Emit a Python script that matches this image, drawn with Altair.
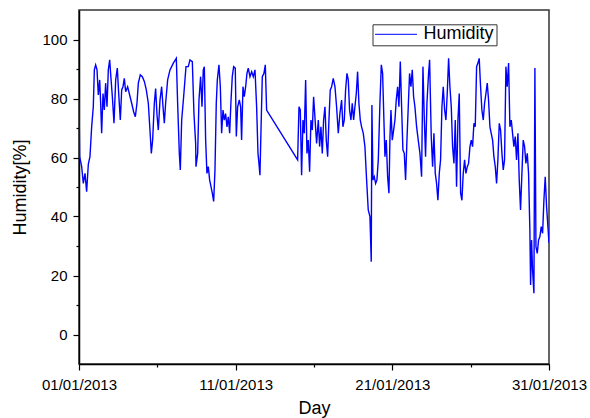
import altair as alt
import pandas as pd

# Hours since 01/01/2013 00:00 and relative humidity [%]
hours_a = [0, 1.0, 4.1, 6.6, 9.2, 11.7, 14.3, 16.8, 19.4, 21.9, 23.5, 25.5, 27.6, 29.6, 31.7, 33.2, 34.7,
           36.8, 38.8, 40.8, 42.9, 44.9, 47.0, 49.0, 51.1, 53.6, 56.2, 58.7, 60.8, 63.3, 65.4, 67.4, 69.4,
           71.5, 74.5, 77.6, 80.7, 83.7, 86.3, 88.8, 90.9, 93.9, 97.0, 100.1, 103.1, 106.2, 108.7, 110.8,
           112.8, 115.4, 117.4, 119.5, 121.5, 124.1, 126.6, 128.7, 130.7, 132.7, 135.8, 139.4, 144.5, 149.1,
           151.1, 153.7, 155.2, 157.3, 160.3, 163.9, 167.4, 170.0, 173.6, 176.1, 178.7]
humidity_a = [80.1, 60.3, 56.9, 51.2, 54.6, 48.4, 57.8, 60.3, 70.4, 77.2, 89.7, 91.4, 89.7, 81.2, 86.3, 78.4,
              68.2, 81.7, 76.1, 85.2, 77.2, 89.7, 93.1, 86.8, 80.6, 71.6, 86.3, 90.3, 81.7, 72.7, 82.9, 84.0,
              86.8, 82.3, 84.0, 81.2, 78.4, 75.5, 73.8, 78.4, 85.2, 88.0, 87.4, 85.8, 82.9, 78.4, 69.3, 61.4,
              65.9, 78.4, 83.4, 74.4, 69.3, 79.5, 84.0, 77.2, 71.6, 78.4, 86.3, 89.7, 92.0, 93.6, 78.4, 61.4,
              55.8, 72.7, 80.6, 90.8, 90.8, 93.1, 92.5, 74.9, 64.8]

hours_b = [179.2, 181.8, 183.8, 186.3, 188.4, 190.4, 192.0, 194.0, 196.0, 198.1, 200.1, 202.2, 204.2, 206.3,
           208.3, 210.3, 211.9, 214.4, 216.5, 218.5, 220.6, 222.6, 224.6, 226.7, 228.7, 230.8, 232.8, 234.8,
           236.9, 239.4, 241.0, 243.0, 245.6, 247.6, 249.1, 251.2, 253.2, 255.3, 257.3, 259.3, 261.9, 264.5,
           267.0, 269.6, 272.1, 274.2, 275.7, 277.2, 278.8, 280.8, 283.3, 285.4, 287.4, 334.9, 337.0, 339.0,
           341.0, 343.1, 345.1, 347.2, 349.2, 351.2, 353.3, 355.3, 357.4, 359.4]
humidity_b = [56.9, 61.4, 79.5, 87.4, 77.2, 89.7, 90.8, 65.9, 54.6, 56.9, 52.4, 50.1, 47.9, 45.1, 55.8, 78.4,
              86.3, 91.4, 84.0, 68.2, 76.1, 72.7, 74.9, 70.4, 73.8, 68.2, 79.0, 87.4, 90.8, 90.3, 67.1, 77.2,
              79.5, 77.2, 65.9, 84.0, 80.6, 84.0, 88.5, 90.3, 87.4, 89.1, 87.4, 89.7, 77.2, 61.4, 58.0, 54.0,
              69.3, 87.4, 88.5, 91.4, 76.1, 59.2, 77.2, 76.1, 54.0, 72.7, 68.2, 86.3, 61.4, 65.9, 55.2, 72.7,
              69.3, 80.6]

hours_c = [364.0, 366.6, 368.6, 370.6, 372.7, 374.7, 376.8, 378.8, 380.9, 382.9, 384.9, 387.0, 389.5, 392.1,
           394.6, 397.2, 399.7, 402.3, 404.3, 406.4, 408.4, 410.5, 412.5, 414.5, 416.6, 418.6, 420.7, 422.7,
           424.8, 426.8, 428.8, 430.9, 432.9, 435.5, 438.0, 440.6, 443.1, 445.7, 447.7, 448.7, 450.3, 452.3,
           454.4, 456.4, 458.5, 461.0, 463.1, 465.1, 467.1, 468.7, 470.7, 472.8, 474.8, 476.4, 477.9, 479.9,
           482.0, 484.0, 486.0, 488.1, 490.1, 492.2, 494.2, 496.2, 498.3, 500.3, 502.4, 504.4, 506.4, 508.5,
           510.5, 512.6, 514.6, 517.2, 519.7, 522.3, 524.8, 526.9, 528.9, 530.9, 533.0, 535.5, 537.1]
humidity_c = [64.8, 72.7, 63.7, 70.4, 61.4, 72.7, 77.2, 65.9, 60.3, 72.7, 82.9, 84.0, 86.8, 84.0, 77.2, 68.2,
              74.9, 79.5, 70.4, 72.7, 82.9, 88.5, 86.3, 76.1, 72.7, 78.4, 72.7, 77.2, 81.7, 89.1, 78.4, 72.7,
              70.4, 68.2, 63.7, 52.4, 42.2, 40.0, 24.7, 77.8, 52.4, 53.5, 51.2, 52.4, 59.2, 78.4, 91.4, 88.5,
              72.7, 60.3, 65.9, 53.5, 47.9, 67.1, 76.1, 65.9, 69.3, 72.7, 79.5, 84.0, 77.2, 92.5, 77.2, 62.6,
              61.4, 52.4, 65.9, 77.2, 88.5, 84.0, 89.7, 80.6, 77.2, 70.4, 65.9, 61.4, 53.5, 90.8, 73.8, 60.3,
              78.4, 88.5, 93.1]

hours_d = [539.6, 541.7, 543.7, 545.8, 547.8, 549.8, 551.9, 553.9, 556.0, 558.0, 560.1, 562.1, 564.1, 566.2,
           568.2, 570.3, 572.3, 574.4, 576.4, 578.4, 580.5, 582.5, 584.6, 586.6, 588.6, 590.7, 592.7, 594.8,
           596.8, 598.9, 600.9, 602.9, 605.0, 607.0, 609.1, 611.1, 613.1, 615.2, 617.2, 619.3, 621.3, 623.4,
           625.4, 627.4, 629.5, 631.5, 633.6, 635.6, 637.7, 639.7, 641.7, 643.8, 645.8, 647.9, 649.9, 651.9,
           654.0, 656.0, 658.1, 660.1, 662.2, 664.2, 666.2, 668.3, 670.3, 672.4, 674.4, 676.4, 678.5, 680.5,
           682.6, 684.6, 686.7, 688.7, 690.7, 691.8, 693.3, 694.8, 696.9, 698.4, 700.0, 702.0, 704.0, 706.1,
           708.1, 710.2, 712.2, 714.2, 716.3, 720.0]
humidity_d = [67.1, 56.9, 68.2, 54.6, 51.2, 45.5, 54.6, 59.2, 77.2, 84.0, 76.1, 72.7, 81.7, 93.6, 84.0, 77.2,
              63.7, 58.0, 72.7, 50.1, 72.7, 81.7, 47.9, 45.5, 54.6, 59.2, 54.6, 56.9, 58.0, 63.7, 65.9, 63.7,
              71.6, 70.4, 90.8, 92.0, 93.6, 84.0, 76.1, 72.7, 78.4, 81.7, 85.2, 79.5, 70.4, 68.2, 65.9, 60.3,
              56.9, 51.2, 59.2, 71.6, 69.3, 61.4, 55.8, 59.2, 90.8, 84.0, 92.0, 70.4, 72.7, 68.2, 63.7, 67.1,
              59.2, 68.2, 52.4, 42.2, 54.6, 65.9, 63.7, 58.0, 61.4, 54.6, 35.4, 16.8, 32.0, 21.9, 14.0, 90.3,
              29.8, 27.5, 32.0, 33.2, 36.6, 34.3, 45.5, 53.5, 43.3, 31.0]

series_name = "Humidity"
x_tick_days = [1, 6, 11, 16, 21, 26, 31]
y_tick_values = [0, 10, 20, 30, 40, 50, 60, 70, 80, 90, 100]

hours = hours_a + hours_b + hours_c + hours_d
humidity = humidity_a + humidity_b + humidity_c + humidity_d

df = pd.DataFrame({
    "time": pd.Timestamp("2013-01-01") + pd.to_timedelta(hours, unit="h"),
    "humidity": humidity,
    "series": series_name,
})

FONT = "Liberation Sans"

x_axis = alt.Axis(
    values=[alt.DateTime(year=2013, month=1, date=d) for d in x_tick_days],
    labelExpr="date(datum.value) % 10 == 1 ? timeFormat(datum.value, '%d/%m/%Y') : ''",
    tickSize={"condition": {"test": "date(datum.value) % 10 == 1", "value": 6}, "value": 3},
    labelPadding=7,
    labelAngle=0,
    labelFlush=False,
    labelOverlap=False,
    titleBaseline="alphabetic",
    titleY=49,
)

y_axis = alt.Axis(
    values=y_tick_values,
    labelExpr="datum.value % 20 == 0 ? datum.label : ''",
    tickSize={"condition": {"test": "datum.value % 20 == 0", "value": 6}, "value": 3},
    labelPadding=6,
    labelFlush=False,
    labelOverlap=False,
    titleBaseline="alphabetic",
    titleAlign="center",
    titleX=-54,
    titleY=177,
)

chart = alt.Chart(df).mark_line(strokeWidth=1.4, clip=True).encode(
    x=alt.X("time:T", title="Day",
            scale=alt.Scale(domain=[alt.DateTime(year=2013, month=1, date=1),
                                    alt.DateTime(year=2013, month=1, date=31)], nice=False),
            axis=x_axis),
    y=alt.Y("humidity:Q", title="Humidity[%]",
            scale=alt.Scale(domain=[-10, 110], nice=False, zero=False),
            axis=y_axis),
    color=alt.Color("series:N", scale=alt.Scale(range=["#0000FF"]),
                    legend=alt.Legend(title=None, orient="none", legendX=293.5, legendY=14.3,
                                      strokeColor="#333333", fillColor="white", padding=2,
                                      symbolType="stroke", symbolSize=1764, symbolStrokeWidth=1,
                                      labelFontSize=18, labelFont=FONT, labelColor="black",
                                      labelOffset=6, clipHeight=16)),
).properties(
    width=470,
    height=354,
    padding={"left": 79, "top": 10, "right": 41, "bottom": 54},
    autosize=alt.AutoSizeParams(type="none"),
    background="white",
).configure_view(
    stroke="#333333", strokeWidth=1.5
).configure_axis(
    domainColor="black", domainWidth=1.5,
    tickColor="black", tickWidth=1.2,
    labelFont=FONT, titleFont=FONT,
    labelFontSize=15, titleFontSize=18,
    labelColor="black", titleColor="black",
    titleFontWeight="normal", grid=False,
)

chart.save("out.html", embed_options={"renderer": "svg", "actions": False})
